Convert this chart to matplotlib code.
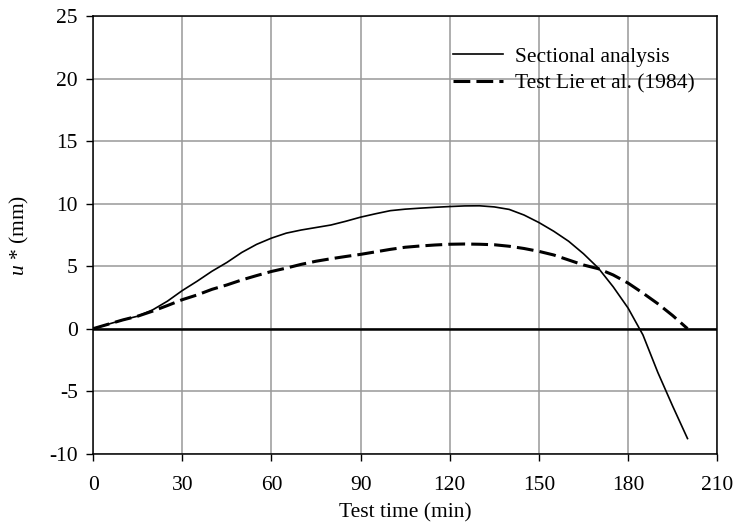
import matplotlib
matplotlib.use("Agg")
import matplotlib.pyplot as plt

# time axis (min), shared by both curves
t = [0, 5, 10, 15, 20, 25, 30, 35, 40, 45, 50, 55, 60, 65, 70, 75, 80, 85, 90, 95, 100,
     105, 110, 115, 120, 125, 130, 135, 140, 145, 150, 155, 160, 165, 170, 175, 180,
     185, 190, 195, 200]

# Sectional analysis (solid)
u_sec = [0, 0.35, 0.7, 1.0, 1.5, 2.2, 3.05, 3.8, 4.6, 5.3, 6.1, 6.75, 7.25, 7.65, 7.9,
         8.1, 8.3, 8.6, 8.93, 9.2, 9.45, 9.57, 9.65, 9.72, 9.78, 9.83, 9.84, 9.75, 9.55,
         9.1, 8.5, 7.8, 7.0, 6.0, 4.85, 3.35, 1.65, -0.5, -3.5, -6.2, -8.8]

# Test Lie et al. (1984) (dashed)
u_test = [0, 0.35, 0.7, 1.0, 1.4, 1.85, 2.32, 2.7, 3.15, 3.5, 3.9, 4.25, 4.58, 4.85,
          5.15, 5.4, 5.6, 5.78, 5.95, 6.15, 6.35, 6.52, 6.62, 6.7, 6.76, 6.78, 6.76, 6.72,
          6.6, 6.42, 6.19, 5.9, 5.5, 5.1, 4.8, 4.3, 3.65, 2.85, 2.0, 1.05, 0]

plt.rcParams['font.family'] = ['Liberation Serif', 'DejaVu Serif']
plt.rcParams['font.size'] = 15.5
plt.rcParams['axes.unicode_minus'] = False
plt.rcParams['mathtext.fontset'] = 'custom'
plt.rcParams['mathtext.it'] = 'Liberation Serif:italic'
plt.rcParams['mathtext.rm'] = 'Liberation Serif'

fig = plt.figure(figsize=(7.36, 5.32), dpi=100)
ax = fig.add_axes([0.1265, 0.1475, 0.848, 0.8215])

ax.plot(t, u_sec, color='black', lw=1.2, label='Sectional analysis')
ax.plot(t, u_test, color='black', lw=2.2, ls=(0, (5.5, 2)), label='Test Lie et al. (1984)')
ax.axhline(0, color='black', lw=1.8)

ax.set_xlim(0, 210)
ax.set_ylim(-10, 25)
ax.set_xticks(range(0, 211, 30))
ax.set_yticks(range(-10, 26, 5))
ax.grid(True, color='#999999', lw=1.1)
ax.set_axisbelow(True)
ax.tick_params(direction='out', length=5, color='black', width=1)
ax.tick_params(axis='x', pad=11)
ax.tick_params(axis='y', pad=6)
for s in ax.spines.values():
    s.set_linewidth(1.1)

ax.set_xlabel('Test time (min)', labelpad=6)
ax.set_ylabel(r'$u$ * (mm)', labelpad=13)

ax.legend(loc='upper left', frameon=False, bbox_to_anchor=(0.577, 0.931),
          borderpad=0, borderaxespad=0, handlelength=2.3, handletextpad=0.55,
          labelspacing=0.33)

fig.savefig('out.png', dpi=100)
